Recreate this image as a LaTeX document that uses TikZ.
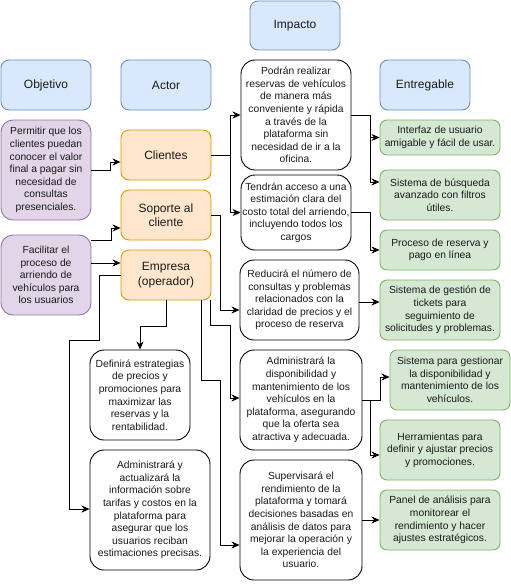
\documentclass[tikz,border=0pt]{standalone}
\usepackage{fontspec}
\setmainfont{Liberation Sans}
\usetikzlibrary{arrows.meta}
\definecolor{bluefill}{HTML}{DAE8FC}
\definecolor{bluedraw}{HTML}{6C8EBF}
\definecolor{orfill}{HTML}{FFE6CC}
\definecolor{ordraw}{HTML}{D79B00}
\definecolor{pufill}{HTML}{E1D5E7}
\definecolor{pudraw}{HTML}{9673A6}
\definecolor{grfill}{HTML}{D5E8D4}
\definecolor{grdraw}{HTML}{82B366}
\definecolor{txt}{HTML}{1A1A1A}
\begin{document}
\begin{tikzpicture}[x=1pt,y=-1pt,
  box/.style={draw, align=center, inner sep=0pt, line width=0.9pt, text=txt},
  small/.style={font=\fontsize{10.3}{12.6}\selectfont},
  big/.style={font=\fontsize{12}{14.3}\selectfont},
  hdr/.style={box, big, fill=bluefill, draw=bluedraw, rounded corners=8pt, minimum width=90pt, minimum height=50pt},
  actor/.style={box, big, fill=orfill, draw=ordraw, rounded corners=8pt, minimum width=90pt, minimum height=50pt},
  objbox/.style={box, small, fill=pufill, draw=pudraw, rounded corners=12pt, minimum width=90pt},
  wbox/.style={box, small, fill=white, draw=black, rounded corners=14pt},
  gbox/.style={box, small, fill=grfill, draw=grdraw, rounded corners=7pt, minimum width=120pt},
  arr/.style={draw=black, line width=0.9pt, -{Stealth[length=8pt,width=7pt,inset=2.5pt]}}
]
\useasboundingbox (0,0) rectangle (511,587);
\fill[white] (0,0) rectangle (511,587);

% headers
\node[hdr, minimum height=49pt] (himp) at (295,25.5) {Impacto};
\node[hdr] (hobj) at (46,85) {Objetivo};
\node[hdr] (hact) at (166,85) {Actor};
\node[hdr] (hent) at (425,85) {Entregable};

% objectives
\node[objbox, minimum height=100pt] (o1) at (46,170) {Permitir que los\\clientes puedan\\conocer el valor\\final a pagar sin\\necesidad de\\consultas\\presenciales.};
\node[objbox, minimum height=80pt] (o2) at (46,275) {Facilitar el\\proceso de\\arriendo de\\vehículos para\\los usuarios};

% actors
\node[actor] (cli) at (166,155) {Clientes};
\node[actor] (sop) at (166,215) {Soporte al\\cliente};
\node[actor] (emp) at (166,275) {Empresa\\(operador)};

% impacts
\node[wbox, minimum width=110pt, minimum height=110pt] (i1) at (296,115) {Podrán realizar\\reservas de vehículos\\de manera más\\conveniente y rápida\\a través de la\\plataforma sin\\necesidad de ir a la\\oficina.};
\node[wbox, minimum width=110pt, minimum height=75pt] (i2) at (296,212.5) {Tendrán acceso a una\\estimación clara del\\costo total del arriendo,\\incluyendo todos los\\cargos};
\node[wbox, minimum width=119pt, minimum height=80pt] (i3) at (299.5,300) {Reducirá el número de\\consultas y problemas\\relacionados con la\\claridad de precios y el\\proceso de reserva};
\node[wbox, minimum width=122pt, minimum height=100pt] (i4) at (301,400) {Administrará la\\disponibilidad y\\mantenimiento de los\\vehículos en la\\plataforma, asegurando\\que la oferta sea\\atractiva y adecuada.};
\node[wbox, minimum width=122pt, minimum height=120pt] (i5) at (301,520) {Supervisará el\\rendimiento de la\\plataforma y tomará\\decisiones basadas en\\análisis de datos para\\mejorar la operación y\\la experiencia del\\usuario.};
\node[wbox, minimum width=100pt, minimum height=90pt] (def) at (140,395) {Definirá estrategias\\de precios y\\promociones para\\maximizar las\\reservas y la\\rentabilidad.};
\node[wbox, minimum width=120pt, minimum height=120pt] (adm) at (150,510) {Administrará y\\actualizará la\\información sobre\\tarifas y costos en la\\plataforma para\\asegurar que los\\usuarios reciban\\estimaciones precisas.};

% deliverables
\node[gbox, minimum height=35pt] (g1) at (440,137.5) {Interfaz de usuario\\amigable y fácil de usar.};
\node[gbox, minimum height=50pt] (g2) at (440,195) {Sistema de búsqueda\\avanzado con filtros\\útiles.};
\node[gbox, minimum height=40pt] (g3) at (440,250) {Proceso de reserva y\\pago en línea};
\node[gbox, minimum height=60pt] (g4) at (440,310) {Sistema de gestión de\\tickets para\\seguimiento de\\solicitudes y problemas.};
\node[gbox, minimum height=60pt] (g5) at (450,380) {Sistema para gestionar\\la disponibilidad y\\mantenimiento de los\\vehículos.};
\node[gbox, minimum height=60pt] (g6) at (440,450) {Herramientas para\\definir y ajustar precios\\y promociones.};
\node[gbox, minimum height=60pt] (g7) at (440,520) {Panel de análisis para\\monitorear el\\rendimiento y hacer\\ajustes estratégicos.};

% connectors: objectives -> actors
\draw[arr] (o1.east) -- ++(19,0) |- ([yshift=-7pt]cli.west);
\draw[arr] ([yshift=35pt]o2.east) -- ++(20,0) |- ([yshift=-13pt]sop.west);
\draw[arr] ([yshift=12pt]o2.east) -- ([yshift=12pt]emp.west);

% actors -> impacts
\draw[arr] (cli.east) -- ++(19,0) |- (i1.west);
\draw[arr] (cli.east) -- ++(19,0) |- (i2.west);
\draw[arr] (sop.east) -- ++(9,0) |- ([yshift=-10pt]i3.west);
\draw[arr] ([xshift=44pt]emp.south) -- ++(0,25) -- ++(20,0) |- ([yshift=2pt]i4.west);
\draw[arr] ([xshift=35pt]emp.south) -- ++(0,80) -- ++(19,0) |- ([yshift=-25pt]i5.west);
\draw[arr] (emp.south) -- ++(0,26) -| (def.north);
\draw[arr] (emp.west) -- ++(-21,0) -- ++(0,65) -- ++(-30,0) |- ([yshift=1pt]adm.west);

% impacts -> deliverables
\draw[arr] (i1.east) -- ++(19,0) |- (g1.west);
\draw[arr] (i1.east) -- ++(19,0) |- ([yshift=13pt]g2.west);
\draw[arr] (i2.east) -- ++(19,0) |- (g3.west);
\draw[arr] ([yshift=-2pt]i3.east) -- ([yshift=8pt]g4.west);
\draw[arr] (i4.east) -- ++(18,0) |- ([yshift=3pt]g5.west);
\draw[arr] (i4.east) -- ++(8,0) |- ([yshift=-5pt]g6.west);
\draw[arr] (i5.east) -- (g7.west);
\end{tikzpicture}
\end{document}
